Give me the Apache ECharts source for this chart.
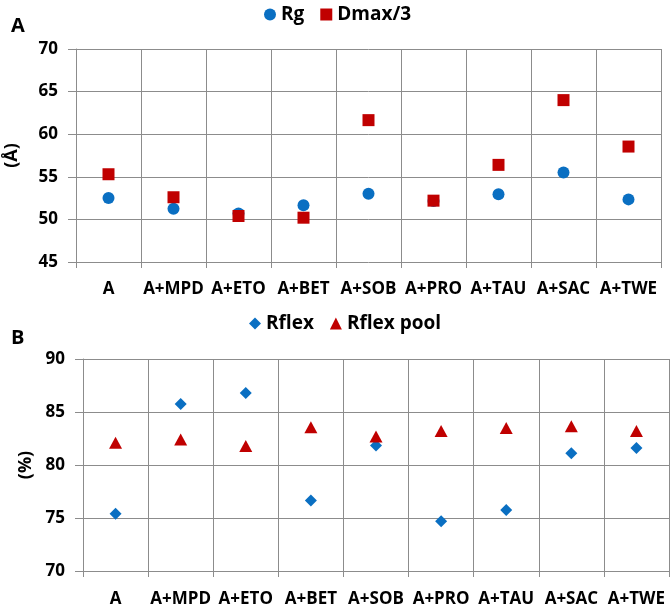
<!DOCTYPE html>
<html>
<head>
<meta charset="utf-8">
<script src="https://cdn.jsdelivr.net/npm/echarts@6/dist/echarts.min.js"></script>
<style>
    html, body { margin: 0; padding: 0; background: #fff; }
    #main { width: 671px; height: 604px; }
</style>
</head>
<body>
<div id="main"></div>
<script>
// chart values

let categories = ["A", "A+MPD", "A+ETO", "A+BET", "A+SOB", "A+PRO", "A+TAU", "A+SAC", "A+TWE"]

// panel A (Å)
let rg = [52.5, 51.25, 50.7, 51.65, 53.0, 52.15, 52.95, 55.5, 52.35]
let dmax3 = [55.3, 52.6, 50.4, 50.2, 61.65, 52.2, 56.4, 64.0, 58.55]

// panel B (%)
let rflex = [75.4, 85.75, 86.8, 76.65, 81.85, 74.7, 75.75, 81.1, 81.6]
let rflexPool = [82.1, 82.4, 81.8, 83.55, 82.7, 83.2, 83.5, 83.65, 83.2]

let font = "'Open Sans', 'Liberation Sans', sans-serif"
let gridColor = "#8c8c8c"
let blue = "#0a6fc2"
let red = "#c00000"

function xAxis(gridIndex, margin) {
    return {
        type: 'category',
        gridIndex: gridIndex,
        data: categories,
        boundaryGap: true,
        axisLine: { show: false },
        axisTick: { show: true, length: 6, lineStyle: { color: gridColor } },
        axisLabel: { color: '#000', fontFamily: font, fontWeight: 'bold', fontSize: 17, margin: margin, interval: 0 },
        splitLine: { show: true, lineStyle: { color: gridColor, width: 1 } }
    }
}

function yAxis(gridIndex, min, max, name, gap) {
    return {
        type: 'value',
        gridIndex: gridIndex,
        min: min,
        max: max,
        interval: 5,
        name: name,
        nameLocation: 'middle',
        nameRotate: 90,
        nameGap: gap,
        nameTextStyle: { color: '#000', fontFamily: font, fontWeight: 'bold', fontSize: 18 },
        axisLine: { show: true, lineStyle: { color: gridColor } },
        axisTick: { show: true, length: 8, lineStyle: { color: gridColor } },
        axisLabel: { color: '#000', fontFamily: font, fontWeight: 'bold', fontSize: 17, margin: 18 },
        splitLine: { show: true, lineStyle: { color: gridColor, width: 1 } }
    }
}

var myChart = echarts.init(document.getElementById('main'), null, { renderer: 'canvas' })

var option = {
    animation: false,
    backgroundColor: '#fff',
    title: [
        { text: 'A', left: 6, top: 11, textStyle: { fontFamily: font, fontWeight: 'bold', fontSize: 20, color: '#000' } },
        { text: 'B', left: 6, top: 323, textStyle: { fontFamily: font, fontWeight: 'bold', fontSize: 20, color: '#000' } }
    ],
    legend: [
        {
            left: 259, top: 0,
            itemWidth: 12, itemHeight: 12, itemGap: 16,
            textStyle: { fontFamily: font, fontWeight: 'bold', fontSize: 19, color: '#000' },
            data: [{ name: 'Rg', icon: 'circle' }, { name: 'Dmax/3', icon: 'rect' }]
        },
        {
            left: 244, top: 309,
            itemWidth: 12, itemHeight: 12, itemGap: 16,
            textStyle: { fontFamily: font, fontWeight: 'bold', fontSize: 19, color: '#000' },
            data: [{ name: 'Rflex', icon: 'diamond' }, { name: 'Rflex pool', icon: 'triangle' }]
        }
    ],
    grid: [
        { left: 76, right: 10, top: 49, bottom: 342, containLabel: false, outerBoundsMode: 'none' },
        { left: 83, right: 2, top: 359, bottom: 33, containLabel: false, outerBoundsMode: 'none' }
    ],
    xAxis: [xAxis(0, 19), xAxis(1, 20)],
    yAxis: [yAxis(0, 45, 70, '(Å)', 55), yAxis(1, 70, 90, '(%)', 46)],
    series: [
        { name: 'Rg', type: 'scatter', xAxisIndex: 0, yAxisIndex: 0, symbol: 'circle', symbolSize: 12, itemStyle: { color: blue, opacity: 1 }, data: rg },
        { name: 'Dmax/3', type: 'scatter', xAxisIndex: 0, yAxisIndex: 0, symbol: 'rect', symbolSize: 12, itemStyle: { color: red, opacity: 1 }, data: dmax3 },
        { name: 'Rflex', type: 'scatter', xAxisIndex: 1, yAxisIndex: 1, symbol: 'diamond', symbolSize: 12, itemStyle: { color: blue, opacity: 1 }, data: rflex },
        { name: 'Rflex pool', type: 'scatter', xAxisIndex: 1, yAxisIndex: 1, symbol: 'triangle', symbolSize: [13, 12], itemStyle: { color: red, opacity: 1 }, data: rflexPool }
    ]
}

myChart.setOption(option)
</script>
</body>
</html>
